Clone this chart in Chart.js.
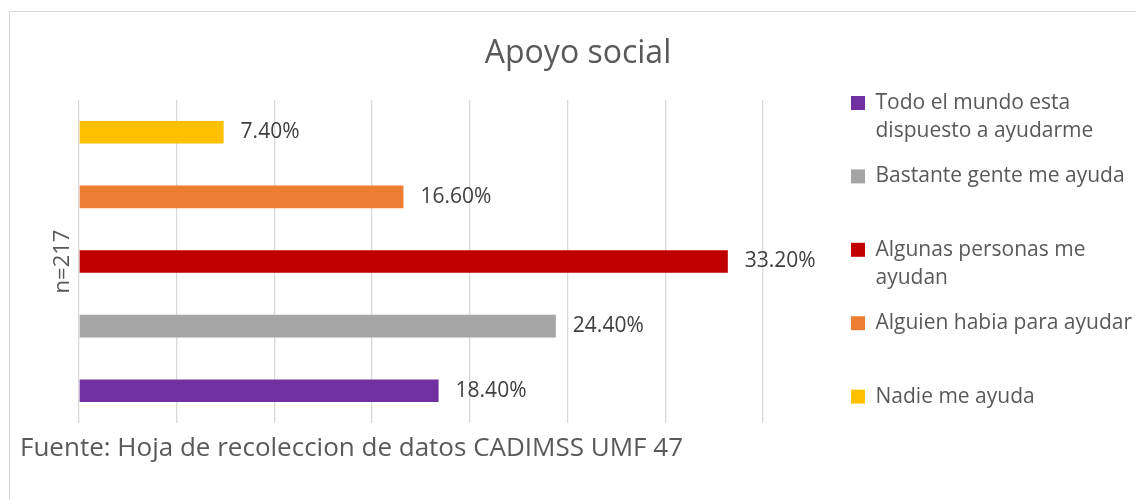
<!DOCTYPE html>
<html>
<head>
<meta charset="utf-8">
<title>Apoyo social</title>
<script src="https://cdn.jsdelivr.net/npm/chart.js@4.4.1/dist/chart.umd.min.js"></script>
<style>
  html, body { margin:0; padding:0; background:#fff; overflow:hidden; }
  #wrap { position:relative; width:1136px; height:500px; }
  #frame { position:absolute; left:9px; top:11px; width:1300px; height:700px; border:1.5px solid #d9d9d9; }
  #chart { position:absolute; left:0; top:0; }
</style>
</head>
<body>
<div id="wrap">
  <div id="frame"></div>
  <canvas id="chart" width="1136" height="500"></canvas>
</div>
<script>
// Apoyo social - one category, five answers (percent of n=217)

const categories = ['n=217'];
// drawn top to bottom (legend is shown reversed)
const seriesNames = ['Nadie me ayuda', 'Alguien habia para ayudar', 'Algunas personas me ayudan', 'Bastante gente me ayuda', 'Todo el mundo esta dispuesto a ayudarme'];
const seriesValues = [7.4, 16.6, 33.2, 24.4, 18.4];
const seriesColors = ['#FFC000', '#ED7D31', '#C00000', '#A5A5A5', '#7030A0'];
// legend text broken into lines like the original
const legendLines = [
  ['Nadie me ayuda', ''],
  ['Alguien habia para ayudar', ''],
  ['Algunas personas me', 'ayudan'],
  ['Bastante gente me ayuda', ''],
  ['Todo el mundo esta', 'dispuesto a ayudarme']
];
const xMin = 0, xMax = 35, xStep = 5;

const FONT = '"Open Sans", "Noto Sans", sans-serif';

// value labels to the right of each bar
const barLabels = {
  id: 'barLabels',
  afterDatasetsDraw(chart){
    const ctx = chart.ctx;
    ctx.save();
    ctx.font = '21px ' + FONT;
    ctx.fillStyle = '#404040';
    ctx.textAlign = 'left';
    ctx.textBaseline = 'middle';
    chart.data.datasets.forEach((ds, i) => {
      chart.getDatasetMeta(i).data.forEach((bar, j) => {
        ctx.fillText(ds.data[j].toFixed(2) + '%', bar.x + 17, bar.y);
      });
    });
    ctx.restore();
  }
};

const datasets = seriesNames.map((name, i) => ({
  label: name,
  data: [seriesValues[i]],
  backgroundColor: seriesColors[i],
  borderColor: seriesColors[i],
  borderWidth: 0,
  xAxisID: 'x',
  yAxisID: 'y',
  categoryPercentage: 1.0,
  barPercentage: 0.35
}));

new Chart(document.getElementById('chart'), {
  type: 'bar',
  data: { labels: categories, datasets },
  options: {
    indexAxis: 'y',
    responsive: false,
    animation: false,
    layout: { padding: { left: 20, right: 0, top: 0, bottom: 0 } },
    scales: {
      x: {
        type: 'linear',
        min: xMin, max: xMax,
        ticks: { display: false, stepSize: xStep },
        grid: { color: '#D9D9D9', lineWidth: 1.3, drawTicks: false },
        border: { display: false },
        afterFit: s => { s.height = 0; }
      },
      y: {
        type: 'category',
        ticks: { display: false },
        grid: { display: false, drawTicks: false },
        border: { display: false },
        title: {
          display: true, text: categories[0], color: '#595959',
          font: { family: FONT, size: 22, lineHeight: 1.2 },
          padding: { top: 30, bottom: 0 }
        },
        afterFit: s => { s.width = 59; }
      },
      // empty axis that keeps the gap between plot and legend
      spacer: {
        type: 'linear', position: 'right', min: 0, max: 1,
        ticks: { display: false },
        grid: { display: false, drawTicks: false },
        border: { display: false },
        afterFit: s => { s.width = 71; }
      }
    },
    plugins: {
      tooltip: { enabled: false },
      title: {
        display: true, text: 'Apoyo social', color: '#595959',
        font: { family: FONT, size: 32, weight: 'normal', lineHeight: 1.2 },
        padding: { top: 35, bottom: 26.6 }
      },
      subtitle: {
        display: true, position: 'bottom', align: 'start',
        text: 'Fuente: Hoja de recoleccion de datos CADIMSS UMF 47', color: '#595959',
        font: { family: FONT, size: 26, weight: 'normal', lineHeight: 1.2 },
        padding: { top: 10.4, bottom: 35.4 }
      },
      legend: {
        position: 'right',
        align: 'start',
        maxWidth: 302,
        reverse: true,
        title: { display: true, text: '', font: { size: 10, lineHeight: 1 }, padding: { top: 65.5, bottom: 0 } },
        labels: {
          boxWidth: 14, boxHeight: 14, padding: 17,
          color: '#595959',
          font: { family: FONT, size: 21, lineHeight: 28.2 / 21 },
          generateLabels(chart){
            const items = Chart.defaults.plugins.legend.labels.generateLabels(chart);
            items.forEach(it => { it.text = legendLines[it.datasetIndex]; it.lineWidth = 0; });
            return items;
          }
        }
      }
    }
  },
  plugins: [barLabels]
});
</script>
</body>
</html>
